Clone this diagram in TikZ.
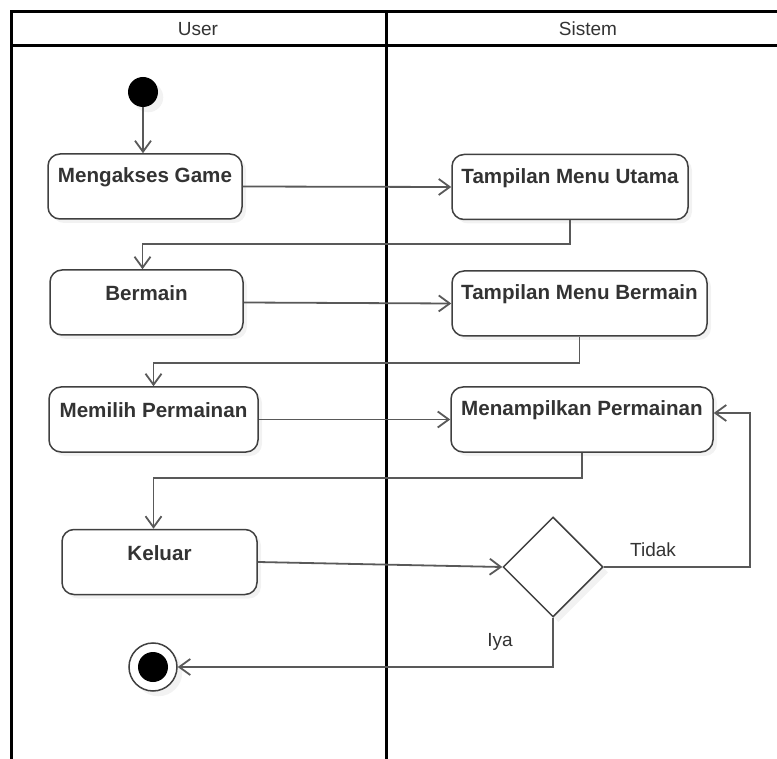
\documentclass[tikz,border=0pt]{standalone}
\usepackage{fontspec}
\setmainfont{Liberation Sans}
\usepackage{xcolor}
\usetikzlibrary{shapes.geometric, positioning, calc, arrows.meta, shadows}
\definecolor{boxgray}{rgb}{0.25,0.25,0.25}
\definecolor{linegray}{rgb}{0.35,0.35,0.35}
\definecolor{textgray}{rgb}{0.2,0.2,0.2}

\begin{document}
\begin{tikzpicture}[x=0.5pt, y=-0.5pt,
  lane/.style={black, line width=1.5pt},
  act/.style={draw=boxgray, line width=0.75pt, rounded corners=6pt, fill=white, inner sep=0pt,
    minimum width=#1, minimum height=32.5pt, drop shadow={opacity=0.1, shadow xshift=2pt, shadow yshift=-2pt}},
  flow/.style={draw=linegray, line width=0.9pt, -{Straight Barb[length=5.5pt, width=8pt]}},
  every label/.style={anchor=center, yshift=-12pt, text=textgray, font=\fontsize{10.3pt}{12pt}\selectfont\bfseries},
  lanehead/.style={text=textgray, font=\fontsize{9.5pt}{11pt}\selectfont},
  guard/.style={text=textgray, font=\fontsize{9.5pt}{11pt}\selectfont}]
\useasboundingbox (0,0) rectangle (777,759);

\draw[lane] (11,759) -- (11,12) -- (790,12);
\draw[lane] (11,46) -- (790,46);
\draw[lane] (386,12) -- (386,759);
\node[lanehead] (user) at (198,29) {User};
\node[lanehead] (sistem) at (588,29) {Sistem};

\node[circle, fill=black, minimum size=15pt, inner sep=0pt, drop shadow={opacity=0.1}] (start) at (143,92) {};

\node[act=97pt, label={north:Mengakses Game}] (m1) at (145,186.5) {};
\node[act=118pt, label={north:Tampilan Menu Utama}] (s1) at (570,187) {};
\node[act=96.5pt, label={north:Bermain}] (m2) at (146.5,302.5) {};
\node[act=127.5pt, label={north:Tampilan Menu Bermain}] (s2) at (579.5,303.5) {};
\node[act=104.5pt, label={north:Memilih Permainan}] (m3) at (153.5,419.5) {};
\node[act=131pt, label={north:Menampilkan Permainan}] (s3) at (582,419.5) {};
\node[act=97.5pt, label={north:Keluar}] (m4) at (159.5,562) {};
\node[diamond, draw=boxgray, line width=0.75pt, fill=white, minimum width=50pt, minimum height=50pt, inner sep=0pt, drop shadow={opacity=0.1}] (dec) at (553,567) {};

\node[circle, draw=boxgray, line width=0.75pt, fill=white, minimum size=24pt, inner sep=0pt, drop shadow={opacity=0.1}] (fin) at (153,667) {};
\node[circle, fill=black, minimum size=15pt, inner sep=0pt] (fincore) at (fin) {};

\draw[flow] (start.south) -- (start.south |- m1.north);
\draw[flow] (m1.east) -- (s1.west);
\draw[flow] (s1.south) -- ++(0,24) -| ([xshift=-2pt]m2.north);
\draw[flow] (m2.east) -- (s2.west);
\draw[flow] (s2.south) -- ++(0,26) -| (m3.north);
\draw[flow] (m3.east) -- (s3.west);
\draw[flow] (s3.south) -- ++(0,25) -| ([xshift=-3pt]m4.north);
\draw[flow] (m4.east) -- (dec.west);

\coordinate (tidakturn) at (750,413);
\draw[flow] (dec.east) -| (tidakturn) -- (s3.east |- tidakturn);
\draw[flow] (dec.south) |- (fin.east);

\node[guard] (tidak) at (653,550) {Tidak};
\node[guard] (iya) at (500,642) {Iya};
\end{tikzpicture}
\end{document}
